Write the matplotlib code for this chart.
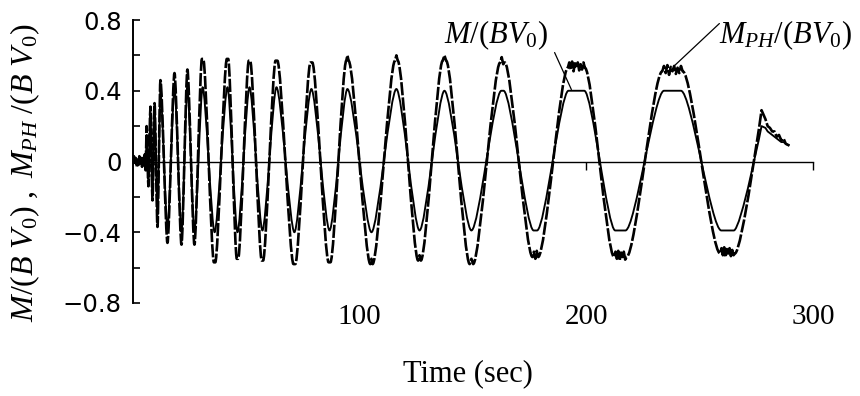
import numpy as np
import matplotlib
matplotlib.use("Agg")
import matplotlib.pyplot as plt
from matplotlib.path import Path
from matplotlib.patches import PathPatch

# ---- data -------------------------------------------------------------
# quiet record before the excitation starts (sec, value)
lead_t = [0.0, 0.4, 0.8, 1.2, 1.6, 2.0, 2.4, 2.8, 3.2, 3.6, 4.0, 4.4, 4.8, 5.2, 5.6]
m_lead = [0.0, 0.015, -0.01, 0.01, -0.015, 0.005, -0.01, 0.015, -0.005, 0.01,
          -0.015, 0.01, -0.01, 0.02, -0.03]
mph_lead = [0.0, 0.03, -0.02, 0.02, -0.03, 0.01, -0.02, 0.03, -0.01, 0.02,
            -0.03, 0.02, -0.02, 0.04, -0.05]

# successive peaks / troughs of the swept response
ext_t = [6.0, 6.8, 7.7, 8.6, 9.5, 10.8, 12.1, 15.2, 18.3, 21.4, 24.0, 27.1,
         30.7, 36.0, 41.7, 46.1, 51.4, 57.1, 63.3, 71.2, 78.7, 86.7, 94.6,
         105.2, 116.2, 126.4, 137.4, 149.3, 163.0, 177.5, 195.6, 215.0,
         238.0, 262.3, 277.3]
m_ext = [0.15, -0.10, 0.26, -0.18, 0.30, -0.30, 0.40, -0.38, 0.42, -0.40,
         0.42, -0.40, 0.42, -0.40, 0.42, -0.40, 0.42, -0.39, 0.42, -0.40,
         0.41, -0.39, 0.41, -0.40, 0.41, -0.39, 0.40, -0.39, 0.40, -0.39,
         0.40, -0.39, 0.40, -0.39, 0.20]
mph_ext = [0.20, -0.14, 0.31, -0.22, 0.33, -0.37, 0.46, -0.46, 0.50, -0.47,
           0.52, -0.47, 0.58, -0.57, 0.58, -0.55, 0.57, -0.56, 0.57, -0.58,
           0.56, -0.57, 0.57, -0.58, 0.57, -0.56, 0.57, -0.58, 0.56, -0.54,
           0.53, -0.54, 0.51, -0.52, 0.29]
# duration (sec) that each extreme value is held (saturated tops)
m_hold = [0, 0, 0, 0, 0, 0, 0, 0, 0, 0, 0, 0, 0, 0, 0, 0, 0, 0,
          0, 0, 0, 0, 0, 0, 0, 0, 0, 0, 1.0, 1.5, 7.0,
          4.5, 7.5, 5.5, 0]
mph_hold = [0, 0, 0, 0, 0, 0, 0, 0, 0, 0, 0, 0, 0.6, 0.6, 0.6, 0.6, 0.6,
            0.6, 0.8, 0.8, 0.8, 0.8, 1.0, 1.0, 1.2, 1.2, 1.5, 1.5, 2.0, 2.5,
            7.5, 5.5, 9.0, 6.5, 0]
# ripple of the measured signal along its saturated tops
mph_ripple = [0.0, 0.03, -0.01, 0.035, -0.02, 0.025, 0.0, 0.03, -0.015,
              0.02, -0.01, 0.03, 0.0]

# decay after the excitation stops
tail_t = [279.0, 280.0, 281.0, 282.0, 283.0, 284.0, 285.0, 286.0, 287.0,
          288.0, 289.6]
m_tail = [0.19, 0.17, 0.16, 0.15, 0.14, 0.13, 0.12, 0.11, 0.11, 0.10, 0.09]
mph_tail = [0.24, 0.20, 0.19, 0.17, 0.17, 0.14, 0.15, 0.12, 0.13, 0.10, 0.09]

x_ticks = [100, 200, 300]
x_tick_labels = ["100", "200", "300"]
y_ticks = [-0.8, -0.4, 0.0, 0.4, 0.8]
y_tick_labels = ["\u22120.8", "\u22120.4", "0", "0.4", "0.8"]
y_minor = [-0.6, -0.2, 0.2, 0.6]


def response_path(lt, lv, et, ev, hold, tt, tv, ripple=None, k=0.25):
    """Path through the record: straight lead-in, Bezier half-cycles between
    extremes (flat tangents), held tops, straight decay tail."""
    verts = [(lt[0], lv[0])]
    codes = [Path.MOVETO]
    for t, v in zip(lt[1:], lv[1:]):
        verts.append((t, v))
        codes.append(Path.LINETO)
    prev = (lt[-1], lv[-1])
    n = len(et)
    for i, (t, v, h) in enumerate(zip(et, ev, hold)):
        a, b = t - h / 2.0, t + h / 2.0
        d = k * (a - prev[0])
        end_ctrl = (a, v) if i == n - 1 else (a - d, v)
        verts += [(prev[0] + d, prev[1]), end_ctrl, (a, v)]
        codes += [Path.CURVE4] * 3
        if h > 0:
            if ripple is not None:
                m = max(2, min(len(ripple), int(round(h / 0.6)) + 1))
                for s, r in zip(np.linspace(a, b, m)[1:-1], ripple[1:m - 1]):
                    verts.append((s, v + r))
                    codes.append(Path.LINETO)
            verts.append((b, v))
            codes.append(Path.LINETO)
        prev = (b, v)
    for t, v in zip(tt, tv):
        verts.append((t, v))
        codes.append(Path.LINETO)
    return Path(verts, codes)


plt.rcParams["mathtext.fontset"] = "custom"
plt.rcParams["mathtext.rm"] = "Liberation Serif"
plt.rcParams["mathtext.it"] = "Liberation Serif:italic"

fig = plt.figure(figsize=(8.6, 3.96), dpi=100)
ax = fig.add_axes([133 / 860, 1 - 303 / 396, 680 / 860, 283 / 396])
ax.set_xlim(0, 300)
ax.set_ylim(-0.8, 0.8)

path_m = response_path(lead_t, m_lead, ext_t, m_ext, m_hold, tail_t, m_tail)
path_mph = response_path(lead_t, mph_lead, ext_t, mph_ext, mph_hold, tail_t,
                         mph_tail, ripple=mph_ripple)
ax.add_patch(PathPatch(path_mph, fill=False, ec="black", lw=1.9,
                       ls=(0, (5, 0.8)), joinstyle="round"))
ax.add_patch(PathPatch(path_m, fill=False, ec="black", lw=1.35,
                       joinstyle="round"))

# axes frame: left spine plus a time axis drawn through zero
ax.spines[["top", "right"]].set_visible(False)
ax.spines["left"].set_linewidth(1.4)
ax.spines["bottom"].set_position(("data", 0))
ax.spines["bottom"].set_linewidth(1.0)
ax.set_xticks(x_ticks)
ax.tick_params(axis="x", which="major", direction="out", length=6, width=1.0,
               labelbottom=False)
ax.set_yticks(y_ticks, labels=y_tick_labels)
ax.set_yticks(y_minor, minor=True)
ax.tick_params(axis="y", which="both", direction="in", length=5, width=1.2,
               pad=8, labelsize=17.5)
for lab in ax.get_yticklabels():
    lab.set_fontfamily("DejaVu Sans")

# time tick labels sit below the plotting area
sec = ax.secondary_xaxis(0.0)
sec.set_xticks(x_ticks, labels=x_tick_labels)
sec.tick_params(length=0, pad=1, labelsize=21, labelfontfamily="Liberation Serif")
sec.spines["bottom"].set_visible(False)

ax.set_xlabel("Time (sec)", fontfamily="Liberation Serif", fontsize=22)
ax.xaxis.set_label_coords(0.4926, -0.20)
ax.set_ylabel(r"$M/(B\ V_0)\ ,\ M_{PH}\ /(B\ V_0)$", fontsize=23)
ax.yaxis.set_label_coords(-0.134, 0.46)

# curve labels with leader lines
ax.text(137.4, 0.667, r"$M/(BV_0)$", fontsize=22, ha="left", va="baseline",
        clip_on=False)
ax.text(258.7, 0.667, r"$M_{PH}/(BV_0)$", fontsize=22, ha="left",
        va="baseline", clip_on=False)
ax.annotate("", xy=(193.4, 0.407), xytext=(186.0, 0.616),
            arrowprops=dict(arrowstyle="-", lw=0.9, color="black",
                            shrinkA=0, shrinkB=0))
ax.annotate("", xy=(238.9, 0.542), xytext=(258.7, 0.78),
            arrowprops=dict(arrowstyle="-", lw=0.9, color="black",
                            shrinkA=0, shrinkB=0))

fig.savefig("out.png", dpi=100)
